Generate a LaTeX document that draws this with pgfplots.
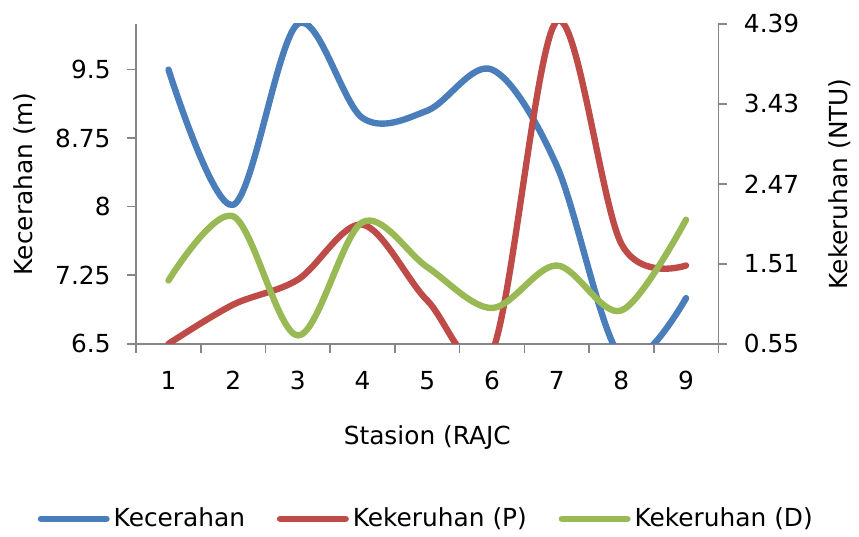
\documentclass[border=0pt]{standalone}
\usepackage{fontspec}
\setmainfont{DejaVu Sans}
\usepackage{pgfplots}
\pgfplotsset{compat=1.18}
\definecolor{cblue}{HTML}{4A7EBB}
\definecolor{cred}{HTML}{BE4B48}
\definecolor{cgreen}{HTML}{98B954}
\definecolor{axgray}{HTML}{868686}
\begin{document}
\fontsize{12.5pt}{15pt}\selectfont
\begin{tikzpicture}
\pgfplotsset{
  common/.style={
    width=293pt, height=161pt, scale only axis,
    xmin=0.5, xmax=9.5,
    axis line style={draw=axgray, line width=0.8pt},
    tick style={draw=axgray, line width=0.8pt},
    tick align=outside,
    major tick length=4.5pt, minor tick length=4.5pt,
    /pgf/number format/assume math mode=true,
  },
  serie/.style={line width=3.2pt, smooth, tension=0.55, line cap=round, line join=round, no marks},
}
\begin{axis}[common, name=ax,
  ymin=6.5, ymax=10,
  axis x line*=bottom, axis y line*=left,
  xtick={1,...,9},
  major x tick style={draw=none},
  minor xtick={0.5,1.5,...,9.5},
  xticklabel style={yshift=-5pt},
  ytick={6.5,7.25,8,8.75,9.5},
  yticklabels={6.5,7.25,8,8.75,9.5},
  yticklabel style={xshift=-4pt},
  xlabel={Stasion (RAJC},
  xlabel style={at={(axis description cs:0.5,0)}, anchor=center, yshift=-47pt},
  ylabel={Kecerahan (m)},
  ylabel style={at={(axis description cs:0,0.5)}, anchor=center, yshift=56pt},
]
\addplot[cblue, serie] coordinates {
  (1,9.5) (2,8.02) (3,10.0) (4,8.97) (5,9.05) (6,9.5) (7,8.45) (8,6.35) (9,7.0)
};
\end{axis}
\begin{axis}[common, at={(ax.south west)}, anchor=south west,
  ymin=0.55, ymax=4.39,
  axis x line=none, axis y line*=right,
  ytick={0.55,1.51,2.47,3.43,4.39},
  yticklabels={0.55,1.51,2.47,3.43,4.39},
  yticklabel style={xshift=4pt},
  ylabel={Kekeruhan (NTU)},
  ylabel style={at={(axis description cs:1,0.5)}, anchor=center, yshift=-61pt},
  legend columns=3,
  legend style={draw=none, fill=none, at={(0.5,0)}, anchor=center, yshift=-88pt,
    /tikz/every even column/.append style={column sep=14pt},
    font=\fontsize{12.5pt}{15pt}\selectfont, inner sep=0pt},
  legend image code/.code={\draw[#1, line width=3.2pt, line cap=round] (0pt,0pt) -- (33pt,0pt);},
]
\addlegendimage{cblue, line width=3.2pt}
\addlegendentry{Kecerahan}
\addplot[cred, serie] coordinates {
  (1,0.55) (2,1.02) (3,1.32) (4,1.98) (5,1.07) (6,0.45) (7,4.42) (8,1.75) (9,1.49)
};
\addlegendentry{Kekeruhan (P)}
\addplot[cgreen, serie] coordinates {
  (1,1.31) (2,2.08) (3,0.65) (4,2.01) (5,1.47) (6,0.98) (7,1.49) (8,0.95) (9,2.04)
};
\addlegendentry{Kekeruhan (D)}
\end{axis}
\path ([xshift=-68.5pt,yshift=-97pt]ax.south west) rectangle ([xshift=68pt,yshift=12pt]ax.north east);
\end{tikzpicture}
\end{document}
